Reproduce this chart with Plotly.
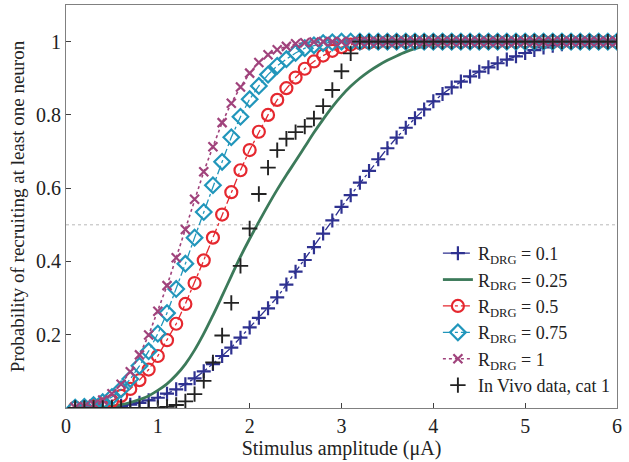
import plotly.graph_objects as go

amps = [round(0.1 * i, 1) for i in range(1, 61)]

r010 = [0.000, 0.001, 0.001, 0.002, 0.004, 0.006, 0.009, 0.014, 0.021, 0.028,
        0.039, 0.051, 0.065, 0.081, 0.100, 0.120, 0.142, 0.165, 0.192, 0.220,
        0.246, 0.272, 0.302, 0.337, 0.372, 0.404, 0.439, 0.476, 0.512, 0.549,
        0.581, 0.615, 0.647, 0.679, 0.709, 0.738, 0.765, 0.791, 0.815, 0.837,
        0.857, 0.875, 0.891, 0.905, 0.918, 0.930, 0.941, 0.951, 0.960, 0.969,
        0.977, 0.984, 0.989, 0.993, 0.996, 0.998, 0.999, 1.000, 1.000, 1.000]

r025 = [0.000, 0.000, 0.001, 0.002, 0.005, 0.009, 0.015, 0.023, 0.033, 0.048,
        0.066, 0.090, 0.120, 0.158, 0.203, 0.253, 0.306, 0.360, 0.413, 0.462,
        0.508, 0.553, 0.596, 0.636, 0.674, 0.713, 0.752, 0.788, 0.822, 0.852,
        0.878, 0.900, 0.919, 0.935, 0.949, 0.961, 0.972, 0.981, 0.988, 0.993,
        0.996, 0.998, 0.999, 1.000, 1.000, 1.000, 1.000, 1.000, 1.000, 1.000,
        1.000, 1.000, 1.000, 1.000, 1.000, 1.000, 1.000, 1.000, 1.000, 1.000]

r050 = [0.001, 0.002, 0.005, 0.010, 0.019, 0.033, 0.052, 0.076, 0.105, 0.142,
        0.185, 0.230, 0.284, 0.341, 0.403, 0.465, 0.528, 0.589, 0.649, 0.704,
        0.754, 0.800, 0.841, 0.873, 0.902, 0.926, 0.946, 0.962, 0.975, 0.985,
        0.992, 0.996, 0.998, 0.999, 1.000, 1.000, 1.000, 1.000, 1.000, 1.000,
        1.000, 1.000, 1.000, 1.000, 1.000, 1.000, 1.000, 1.000, 1.000, 1.000,
        1.000, 1.000, 1.000, 1.000, 1.000, 1.000, 1.000, 1.000, 1.000, 1.000]

r075 = [0.001, 0.003, 0.008, 0.016, 0.030, 0.051, 0.079, 0.115, 0.155, 0.203,
        0.259, 0.325, 0.394, 0.465, 0.535, 0.608, 0.672, 0.739, 0.795, 0.843,
        0.879, 0.910, 0.934, 0.952, 0.969, 0.982, 0.990, 0.996, 0.998, 1.000,
        1.000, 1.000, 1.000, 1.000, 1.000, 1.000, 1.000, 1.000, 1.000, 1.000,
        1.000, 1.000, 1.000, 1.000, 1.000, 1.000, 1.000, 1.000, 1.000, 1.000,
        1.000, 1.000, 1.000, 1.000, 1.000, 1.000, 1.000, 1.000, 1.000, 1.000]

r100 = [0.001, 0.004, 0.010, 0.022, 0.039, 0.065, 0.099, 0.145, 0.199, 0.264,
        0.334, 0.410, 0.487, 0.570, 0.645, 0.713, 0.779, 0.832, 0.876, 0.914,
        0.943, 0.964, 0.978, 0.987, 0.994, 0.997, 0.999, 1.000, 1.000, 1.000,
        1.000, 1.000, 1.000, 1.000, 1.000, 1.000, 1.000, 1.000, 1.000, 1.000,
        1.000, 1.000, 1.000, 1.000, 1.000, 1.000, 1.000, 1.000, 1.000, 1.000,
        1.000, 1.000, 1.000, 1.000, 1.000, 1.000, 1.000, 1.000, 1.000, 1.000]

invivo = [0.000, 0.000, 0.000, 0.000, 0.000, 0.000, 0.000, 0.000, 0.000, 0.000,
          0.003, 0.008, 0.018, 0.038, 0.074, 0.124, 0.198, 0.287, 0.388, 0.490,
          0.584, 0.656, 0.704, 0.735, 0.753, 0.768, 0.790, 0.824, 0.868, 0.919,
          0.968, 1.000, 1.000, 1.000, 1.000, 1.000, 1.000, 1.000, 1.000, 1.000,
          1.000, 1.000, 1.000, 1.000, 1.000, 1.000, 1.000, 1.000, 1.000, 1.000,
          1.000, 1.000, 1.000, 1.000, 1.000, 1.000, 1.000, 1.000, 1.000, 1.000]

names = ["R<sub>DRG</sub> = 0.1", "R<sub>DRG</sub> = 0.25", "R<sub>DRG</sub> = 0.5",
         "R<sub>DRG</sub> = 0.75", "R<sub>DRG</sub> = 1", "In Vivo data, cat 1"]

x_ticks = [0, 1, 2, 3, 4, 5, 6]
y_ticks = [0.2, 0.4, 0.6, 0.8, 1.0]
y_ticktext = ["0.2", "0.4", "0.6", "0.8", "1"]

FONT = "Liberation Serif"

fig = go.Figure()

# reference line at 0.5
fig.add_trace(go.Scatter(x=[0, 6], y=[0.5, 0.5], mode="lines",
                         line=dict(color="#b8b8b8", width=1, dash="dot"),
                         showlegend=False, hoverinfo="skip"))

fig.add_trace(go.Scatter(x=amps, y=r010, name=names[0], mode="lines+markers",
                         line=dict(color="#2e3190", width=1.3, dash="dashdot"),
                         marker=dict(symbol="cross-thin", size=10,
                                     line=dict(color="#2e3190", width=2.2))))
fig.add_trace(go.Scatter(x=amps, y=r025, name=names[1], mode="lines",
                         line=dict(color="#3c7a5a", width=2.8, shape="spline")))
fig.add_trace(go.Scatter(x=amps, y=r050, name=names[2], mode="lines+markers",
                         line=dict(color="#e5282f", width=1.3, dash="dashdot"),
                         marker=dict(symbol="circle-open", size=12,
                                     line=dict(color="#e5282f", width=2.2))))
fig.add_trace(go.Scatter(x=amps, y=r075, name=names[3], mode="lines+markers",
                         line=dict(color="#2196bb", width=1.3, dash="dashdot"),
                         marker=dict(symbol="diamond-open", size=12,
                                     line=dict(color="#2196bb", width=2.2))))
fig.add_trace(go.Scatter(x=amps, y=r100, name=names[4], mode="lines+markers",
                         line=dict(color="#a0437c", width=1.6, dash="dot"),
                         marker=dict(symbol="x-thin", size=9,
                                     line=dict(color="#a0437c", width=2.2))))
fig.add_trace(go.Scatter(x=amps, y=invivo, name=names[5], mode="markers",
                         marker=dict(symbol="cross-thin", size=11,
                                     line=dict(color="#222222", width=1.9))))

axis_common = dict(showline=True, linecolor="#808080", linewidth=1, mirror=True,
                   ticks="inside", ticklen=5, tickcolor="#404040", showgrid=False,
                   zeroline=False, tickfont=dict(family=FONT, size=20, color="#222"))

fig.update_layout(
    width=629, height=462,
    margin=dict(l=66, r=12, t=5, b=54),
    paper_bgcolor="white", plot_bgcolor="white",
    font=dict(family=FONT, color="#222"),
    xaxis=dict(range=[0, 6], tickvals=x_ticks,
               title=dict(text="Stimulus amplitude (μA)", font=dict(family=FONT, size=20),
                          standoff=2),
               **axis_common),
    yaxis=dict(range=[0, 1.1], tickvals=y_ticks, ticktext=y_ticktext,
               title=dict(text="Probability of recruiting at least one neuron",
                          font=dict(family=FONT, size=19), standoff=6),
               **axis_common),
    legend=dict(x=0.998, y=0.01, xanchor="right", yanchor="bottom",
                bgcolor="rgba(255,255,255,0)", borderwidth=0,
                font=dict(family=FONT, size=18, color="#222"),
                tracegroupgap=0, itemwidth=30),
    showlegend=True,
)

fig.write_html("out.html", config={"displayModeBar": False},
               post_script="document.body.style.margin='0px';")
